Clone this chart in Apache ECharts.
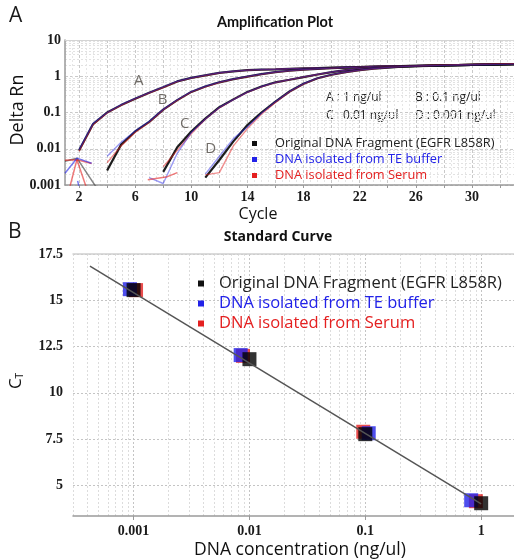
<!DOCTYPE html>
<html>
<head>
<meta charset="utf-8">
<script src="https://cdn.jsdelivr.net/npm/echarts@6/dist/echarts.min.js"></script>
<style>
  html, body { margin: 0; padding: 0; background: #fff; }
  #app { width: 514px; height: 560px; }
</style>
</head>
<body>
<div id="app"></div>
<script>
// ---- A: amplification plot (Delta Rn per cycle, null = not drawn) ----
const cycles = [1,2,3,4,5,6,7,8,9,10,11,12,13,14,15,16,17,18,19,20,21,22,23,24,25,26,27,28,29,30,31,32,33];
const aBlack = [null,0.009,0.048,0.1,0.16,0.24,0.35,0.5,0.72,0.9,1.06,1.24,1.37,1.47,1.52,1.55,1.6,1.64,1.68,1.72,1.76,1.8,1.84,1.88,1.91,1.94,1.97,2.0,2.03,2.06,2.09,2.12,2.15];
const aBlue  = [null,0.0095,0.05,0.1,0.165,0.245,0.355,0.51,0.73,0.91,1.07,1.25,1.38,1.48,1.53,1.56,1.61,1.65,1.69,1.73,1.77,1.81,1.85,1.89,1.92,1.95,1.98,2.01,2.04,2.07,2.1,2.13,2.16];
const aRed   = [null,0.0085,0.046,0.097,0.158,0.238,0.345,0.49,0.71,0.89,1.05,1.23,1.36,1.46,1.52,1.56,1.61,1.65,1.69,1.73,1.78,1.82,1.86,1.9,1.93,1.96,1.99,2.02,2.05,2.08,2.11,2.15,2.19];
const bBlack = [null,null,null,0.0025,0.013,0.03,0.055,0.12,0.22,0.37,0.52,0.68,0.83,0.98,1.14,1.3,1.42,1.52,1.6,1.67,1.73,1.78,1.83,1.87,1.91,1.94,1.97,2.0,2.03,2.06,2.09,2.12,2.15];
const bBlue  = [null,null,null,0.0062,0.015,0.031,0.057,0.122,0.225,0.375,0.53,0.69,0.84,0.99,1.15,1.31,1.43,1.53,1.61,1.68,1.74,1.79,1.84,1.88,1.92,1.95,1.98,2.01,2.04,2.07,2.1,2.13,2.16];
const bRed   = [null,null,null,0.0041,0.012,0.028,0.053,0.118,0.215,0.365,0.51,0.67,0.82,0.97,1.13,1.29,1.41,1.51,1.6,1.67,1.73,1.79,1.84,1.88,1.92,1.96,1.99,2.02,2.05,2.08,2.12,2.16,2.2];
const cBlack = [null,null,null,null,null,null,null,0.0023,0.011,0.03,0.068,0.14,0.23,0.37,0.52,0.68,0.8,0.95,1.12,1.3,1.47,1.6,1.7,1.78,1.84,1.89,1.94,1.98,2.02,2.06,2.09,2.12,2.15];
const cBlue  = [null,null,null,null,null,null,0.0016,0.0011,0.0075,0.028,0.066,0.138,0.228,0.365,0.52,0.68,0.81,0.96,1.13,1.31,1.48,1.61,1.71,1.79,1.85,1.9,1.95,1.99,2.03,2.07,2.1,2.13,2.16];
const cRed   = [null,null,null,null,null,null,null,0.0032,0.009,0.026,0.065,0.135,0.225,0.36,0.51,0.67,0.8,0.95,1.12,1.3,1.48,1.62,1.73,1.81,1.87,1.92,1.97,2.01,2.05,2.09,2.13,2.17,2.21];
const dBlack = [null,null,null,null,null,null,null,null,null,null,0.0016,0.0049,0.016,0.045,0.1,0.2,0.38,0.62,0.88,1.1,1.3,1.47,1.62,1.74,1.83,1.9,1.95,1.99,2.03,2.06,2.09,2.12,2.15];
const dBlue  = [null,null,null,null,null,null,null,null,null,null,0.002,0.0062,0.019,0.04,0.095,0.2,0.38,0.63,0.89,1.11,1.31,1.48,1.63,1.75,1.84,1.91,1.96,2.0,2.04,2.07,2.1,2.13,2.16];
const dRed   = [null,null,null,null,null,null,null,null,null,null,0.0019,0.0022,0.012,0.036,0.09,0.19,0.37,0.61,0.87,1.09,1.29,1.46,1.61,1.74,1.84,1.92,1.98,2.03,2.07,2.11,2.15,2.19,2.22];

// baseline noise pieces [cycle, Delta Rn]
const noiseBlack = [[1.0,0.0045],[1.85,0.0055],[3.2,0.0009]];
const noiseBlue  = [[1.0,0.0021],[1.85,0.0055],[2.9,0.004]];
const noiseBlue2 = [[1.9,0.0013],[2.0,0.0009]];
const noiseRed   = [[1.0,0.0048],[1.85,0.005],[2.9,0.0039]];
const noiseRed2  = [[1.85,0.005],[2.5,0.0009]];
const noiseRed3  = [[1.85,0.005],[1.35,0.0009]];
const noiseRedC  = [[6.9,0.0014],[8.3,0.0017],[9.0,0.0022]];

const curveLabels = ['A','B','C','D'];
const labelCycles = [6.25,7.96,9.53,11.39];
const labelValues = [0.74,0.22,0.048,0.0098];

const cycleTicks = [2,4,6,8,10,12,14,16,18,20,22,24,26,28,30,32];
const cycleLabels = [2,6,10,14,18,22,26,30];

// ---- B: standard curve ----
const concTicks = [0.001,0.01,0.1,1];
const ctTicks = [5,7.5,10,12.5,15,17.5];
const blackConc = [0.001,0.01,0.1,1];
const blackCt   = [15.55,11.82,7.77,4.04];
const blueConc  = [0.00093,0.0084,0.107,0.82];
const blueCt    = [15.6,12.04,7.82,4.2];
const redConc   = [0.00105,0.0088,0.096,0.9];
const redCt     = [15.55,12.0,7.9,4.15];
const fitConc = [0.00042,1];
const fitCt   = [16.85,4.0];

const NAME_K = 'Original DNA Fragment (EGFR L858R)';
const NAME_B = 'DNA isolated from TE buffer';
const NAME_R = 'DNA isolated from Serum';
const COL_K = '#111111', COL_B = '#2222e8', COL_R = '#e42020';

function minorLog(from, to) {
  const out = [];
  for (let d = from; d < to * 1.0001; d *= 10) {
    for (let k = 2; k <= 9; k++) out.push(+(k * d).toPrecision(3));
  }
  return out;
}
function pairs(xs, ys) { return xs.map((x, i) => [x, ys[i]]); }

const tickFont = { fontFamily: 'Liberation Serif', fontWeight: 'bold', fontSize: 14, color: '#1a1a1a' };
const sans = 'Open Sans';

const series = [];
function curve(vals, name, color, width, opacity) {
  series.push({
    type: 'line', name, xAxisIndex: 0, yAxisIndex: 0,
    data: pairs(cycles, vals), showSymbol: false, symbol: 'none', clip: true,
    itemStyle: { color }, lineStyle: { color, width, opacity }, silent: true
  });
}
function piece(pts, name, color) {
  series.push({
    type: 'line', name, xAxisIndex: 0, yAxisIndex: 0, data: pts, showSymbol: false,
    symbol: 'none', clip: true, itemStyle: { color }, lineStyle: { color, width: 1.5, opacity: 0.6 }, silent: true
  });
}
[[aBlack,aRed,aBlue],[bBlack,bRed,bBlue],[cBlack,cRed,cBlue],[dBlack,dRed,dBlue]].forEach(g => {
  curve(g[0], NAME_K, COL_K, 2.2, 0.95);
  curve(g[1], NAME_R, COL_R, 1.4, 0.5);
  curve(g[2], NAME_B, COL_B, 1.4, 0.45);
});
piece(noiseBlack, NAME_K, '#333');
piece(noiseRed, NAME_R, COL_R);
piece(noiseRed2, NAME_R, COL_R);
piece(noiseRed3, NAME_R, COL_R);
piece(noiseRedC, NAME_R, COL_R);
piece(noiseBlue, NAME_B, COL_B);
piece(noiseBlue2, NAME_B, COL_B);

series.push({
  type: 'scatter', xAxisIndex: 0, yAxisIndex: 0, symbolSize: 0, silent: true,
  data: curveLabels.map((t, i) => ({ value: [labelCycles[i], labelValues[i]], name: t })),
  label: { show: true, formatter: p => p.name, position: 'inside', fontFamily: sans, fontSize: 15, color: '#4e4842' }
});

// standard curve
series.push({
  type: 'line', xAxisIndex: 2, yAxisIndex: 2, data: pairs(fitConc, fitCt), symbol: 'none',
  lineStyle: { color: '#555', width: 1.5 }, silent: true
});
[[redConc, redCt, NAME_R, COL_R], [blueConc, blueCt, NAME_B, COL_B], [blackConc, blackCt, NAME_K, '#000']].forEach(s => {
  series.push({
    type: 'scatter', name: s[2], xAxisIndex: 2, yAxisIndex: 2, data: pairs(s[0], s[1]),
    symbol: 'rect', symbolSize: 14, itemStyle: { color: s[3] }, silent: true
  });
});

const legendItems = [
  { name: NAME_K, textStyle: { color: '#222' } },
  { name: NAME_B, textStyle: { color: COL_B } },
  { name: NAME_R, textStyle: { color: COL_R } }
];

const option = {
  animation: false,
  backgroundColor: '#fff',
  grid: [
    { left: 65, top: 40, right: 0, height: 145 },
    { left: 73, top: 254, right: 0, height: 262 }
  ],
  legend: [
    { data: legendItems, orient: 'vertical', left: 247, top: 132, icon: 'rect', itemWidth: 5, itemHeight: 5,
      itemGap: 3, selectedMode: false, textStyle: { fontFamily: sans, fontSize: 12.8, padding: [0, 0, 0, 13] } },
    { data: legendItems, orient: 'vertical', left: 193, top: 270, icon: 'rect', itemWidth: 6, itemHeight: 6,
      itemGap: 3, selectedMode: false, textStyle: { fontFamily: sans, fontSize: 16.5, padding: [0, 0, 0, 10] } }
  ],
  xAxis: [
    { gridIndex: 0, type: 'value', min: 1, max: 33,
      axisLine: { lineStyle: { color: '#9a9a9a', width: 1.5 } },
      axisTick: { customValues: cycleTicks, length: 3, lineStyle: { color: '#999' } },
      axisLabel: Object.assign({ customValues: cycleLabels, margin: 5 }, tickFont),
      splitLine: { show: true, lineStyle: { color: '#c9c9c9', type: [3, 2] } } },
    { gridIndex: 0, type: 'value', min: 1, max: 33, position: 'top',
      axisLine: { show: true, lineStyle: { color: '#d4d4d4' } }, axisLabel: { show: false },
      axisTick: { show: false, customValues: cycles.filter(c => c % 2).concat(cycles.map(c => c + 0.5)) },
      splitLine: { show: true, lineStyle: { color: '#e6e6e6', type: [2, 2] } } },
    { gridIndex: 1, type: 'log', min: 0.0003, max: 1.92,
      axisLine: { lineStyle: { color: '#9a9a9a', width: 1.5 } },
      axisTick: { customValues: concTicks, length: 4, lineStyle: { color: '#999' } },
      axisLabel: Object.assign({ customValues: concTicks, margin: 8, formatter: v => String(+(+v).toPrecision(3)) }, tickFont),
      splitLine: { show: true, lineStyle: { color: '#c4c4c4', type: [2, 2] } } },
    { gridIndex: 1, type: 'log', min: 0.0003, max: 1.92, position: 'top',
      axisLine: { show: true, lineStyle: { color: '#d0d0d0', width: 1.5 } }, axisLabel: { show: false },
      axisTick: { show: false, customValues: minorLog(0.0001, 1) },
      splitLine: { show: true, lineStyle: { color: '#dcdcdc', type: [2, 2] } } }
  ],
  yAxis: [
    { gridIndex: 0, type: 'log', min: 0.001, max: 10, logBase: 10,
      axisLine: { show: true, lineStyle: { color: '#9a9a9a', width: 1.5 } },
      axisTick: { show: false },
      axisLabel: Object.assign({ margin: 4, formatter: v => String(+(+v).toPrecision(3)) }, tickFont),
      splitLine: { show: true, lineStyle: { color: '#c9c9c9', type: [3, 2] } } },
    { gridIndex: 0, type: 'log', min: 0.001, max: 10, logBase: 10, position: 'right',
      axisLine: { show: false }, axisLabel: { show: false },
      axisTick: { show: false, customValues: minorLog(0.001, 1) },
      splitLine: { show: true, lineStyle: { color: '#e2e2e2', type: [2, 2] } } },
    { gridIndex: 1, type: 'value', min: 3.35, max: 17.5,
      axisLine: { show: false },
      axisTick: { show: false, customValues: ctTicks },
      axisLabel: Object.assign({ customValues: ctTicks, margin: 10 }, tickFont),
      splitLine: { show: true, lineStyle: { color: '#c4c4c4', type: [2, 2] } } }
  ],
  graphic: [
    { type: 'text', left: 9, top: 6, style: { text: 'A', font: '21px "Open Sans"', fill: '#1a1a1a' } },
    { type: 'text', left: 8, top: 222, style: { text: 'B', font: '21px "Open Sans"', fill: '#1a1a1a' } },
    { type: 'text', x: 275, y: 22, style: { text: 'Amplification Plot', font: 'bold 14.5px Lato', fill: '#111', align: 'center', verticalAlign: 'middle' } },
    { type: 'text', x: 278, y: 237, style: { text: 'Standard Curve', font: 'bold 14px "Open Sans"', fill: '#111', align: 'center', verticalAlign: 'middle' } },
    { type: 'text', x: 326, y: 98, style: { text: 'A : 1 ng/ul', font: '12px "Open Sans"', fill: '#222', verticalAlign: 'middle' } },
    { type: 'text', x: 415, y: 98, style: { text: 'B : 0.1 ng/ul', font: '12px "Open Sans"', fill: '#222', verticalAlign: 'middle' } },
    { type: 'text', x: 326, y: 116, style: { text: 'C : 0.01 ng/ul', font: '12px "Open Sans"', fill: '#222', verticalAlign: 'middle' } },
    { type: 'text', x: 415, y: 116, style: { text: 'D : 0.001 ng/ul', font: '12px "Open Sans"', fill: '#222', verticalAlign: 'middle' } },
    { type: 'text', x: 18, y: 110, rotation: Math.PI / 2, style: { text: 'Delta Rn', font: '18px "Open Sans"', fill: '#111', align: 'center', verticalAlign: 'middle' } },
    { type: 'text', x: 258, y: 214, style: { text: 'Cycle', font: '16px "Open Sans"', fill: '#111', align: 'center', verticalAlign: 'middle' } },
    { type: 'text', x: 300, y: 550, style: { text: 'DNA concentration (ng/ul)', font: '17.5px "Open Sans"', fill: '#111', align: 'center', verticalAlign: 'middle' } },
    { type: 'text', x: 16, y: 381, rotation: Math.PI / 2,
      style: { text: '{c|C}{t|T}', align: 'center', verticalAlign: 'middle',
        rich: { c: { fontFamily: sans, fontSize: 17, fill: '#111' }, t: { fontFamily: sans, fontSize: 10, fill: '#111', padding: [9, 0, 0, 0] } } } }
  ],
  series
};

const chart = echarts.init(document.getElementById('app'), null, { renderer: 'canvas' });
chart.setOption(option);
</script>
</body>
</html>
